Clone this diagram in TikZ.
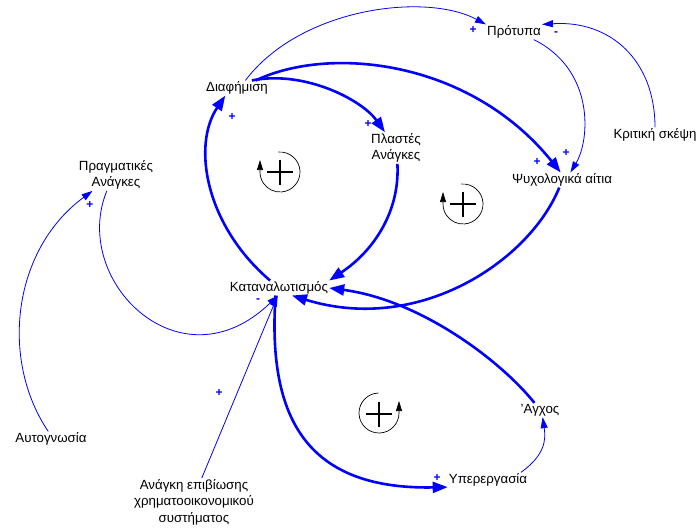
\documentclass[tikz,border=0pt]{standalone}
\usepackage{fontspec}
\setmainfont{Liberation Sans}
\usetikzlibrary{arrows.meta}

\begin{document}
\begin{tikzpicture}[x=1pt,y=-1pt,
  var/.style={font=\fontsize{13.3}{16.5}\selectfont, inner sep=1pt, align=center},
  strong/.style={blue, line width=2.6pt, -{Triangle[length=15pt,width=11pt]}},
  weak/.style={blue, line width=0.8pt, -{Triangle[length=11pt,width=7pt]}},
  pol/.style={blue, font=\fontsize{12}{12}\selectfont\bfseries, inner sep=0pt},
  ring/.style={black, line width=0.7pt, -{Triangle[length=10pt,width=6pt]}},
  cross/.style={black, line width=1.8pt}]
\useasboundingbox (0,0) rectangle (700,528);

% variables
\node[var] (diaf) at (237,88) {Διαφήμιση};
\node[var] (prot) at (514,32) {Πρότυπα};
\node[var] (plast) at (396,148) {Πλαστές\\Ανάγκες};
\node[var] (psych) at (562,180) {Ψυχολογικά αίτια};
\node[var] (krit) at (655,135) {Κριτική σκέψη};
\node[var] (prag) at (116,175) {Πραγματικές\\Ανάγκες};
\node[var] (kat) at (279,288) {Καταναλωτισμός};
\node[var] (autog) at (51,439) {Αυτογνωσία};
\node[var] (anagk) at (194,502) {Ανάγκη επιβίωσης\\χρηματοοικονομικού\\συστήματος};
\node[var] (agx) at (540,410) {'Αγχος};
\node[var] (hyper) at (488,480) {Υπερεργασία};

% strong links
\draw[strong] (diaf.27) .. controls (305,70) and (362,100) .. (plast.125);
\draw[strong] (diaf.22) .. controls (330,45) and (470,60) .. (psych.100);
\draw[strong] (plast.-85) .. controls (400,210) and (375,250) .. (kat.north east);
\draw[strong] (kat.140) .. controls (205,225) and (192,145) .. (diaf.213);
\draw[strong] (psych.-110) .. controls (530,260) and (420,335) .. (kat.-30);
\draw[strong] (agx.128) .. controls (500,360) and (420,300) .. (kat.east);
\draw[strong] (kat.-115) .. controls (268,410) and (300,490) .. (hyper.-170);

% weak links
\draw[weak] (diaf.42) .. controls (300,8) and (425,-8) .. (prot.north west);
\draw[weak] (prot.-21) .. controls (595,70) and (590,140) .. (psych.42);
\draw[weak] (krit.north) .. controls (655,60) and (610,20) .. (prot.north east);
\draw[weak] (prag.-120) .. controls (70,280) and (180,390) .. (kat.-98);
\draw[weak] (autog.110) .. controls (0,360) and (12,250) .. (prag.214);
\draw[weak] (anagk.72) -- (kat.-100);
\draw[weak] (hyper.13) .. controls (545,455) and (546,440) .. (agx.-70);

% polarity
\node[pol] (s1) at (232,117) {+};
\node[pol] (s2) at (368,124) {+};
\node[pol] (s3) at (473,30) {+};
\node[pol] (s4) at (556,34) {-};
\node[pol] (s5) at (537,162) {+};
\node[pol] (s6) at (566,153) {+};
\node[pol] (s7) at (90,205) {+};
\node[pol] (s8) at (258,301) {-};
\node[pol] (s9) at (219,393) {+};
\node[pol] (s10) at (437,478) {+};

% loop markers
\draw[ring] (280,172) ++(-95:20) arc[start angle=-95, end angle=180, radius=20] -- ++(0,-12);
\draw[cross] (267,172) -- (293,172) (280,159.5) -- (280,184.5);
\draw[ring] (463,204) ++(-95:20) arc[start angle=-95, end angle=180, radius=20] -- ++(0,-12);
\draw[cross] (450,204) -- (476,204) (463,191.5) -- (463,216.5);
\draw[ring] (379,413) ++(-92:20) arc[start angle=-92, end angle=-360, radius=20] -- ++(0,-12);
\draw[cross] (366,414) -- (392,414) (379,401.5) -- (379,426.5);
\end{tikzpicture}
\end{document}
